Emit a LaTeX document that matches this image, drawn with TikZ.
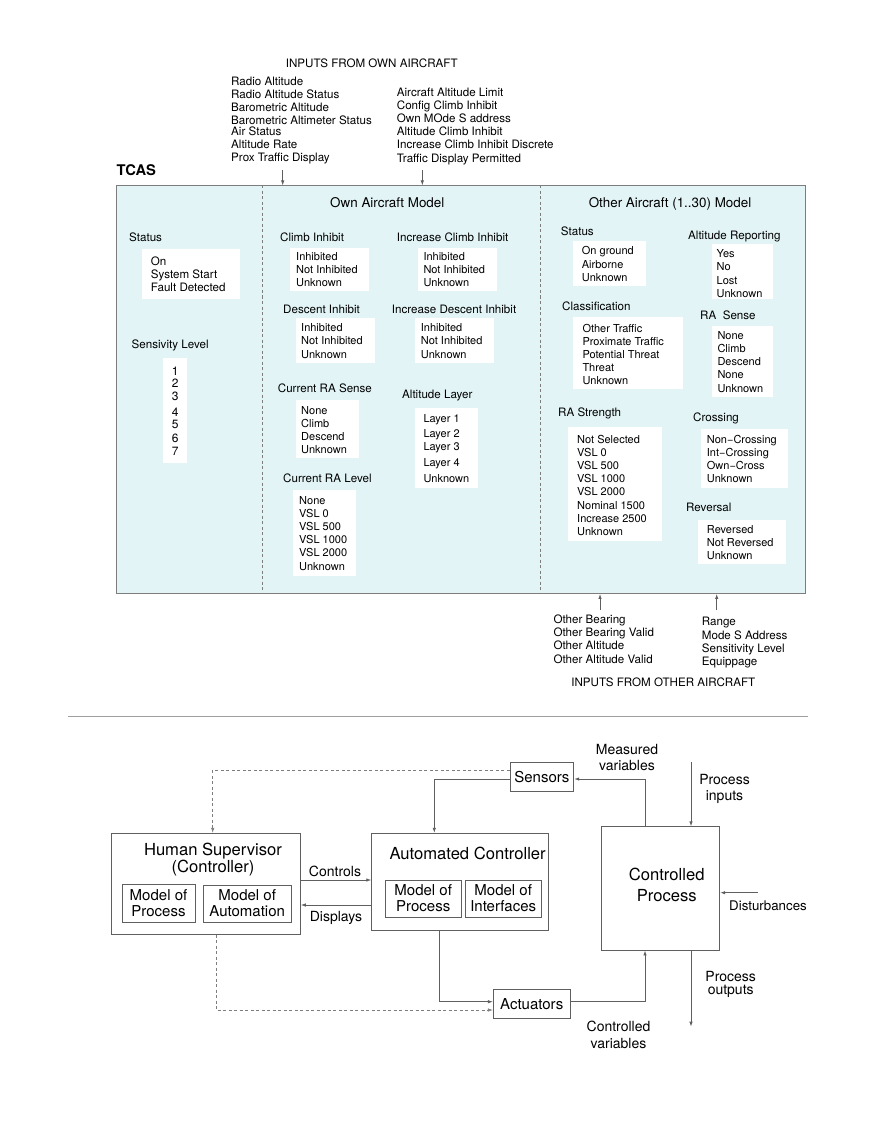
\documentclass[tikz,border=0pt]{standalone}
\usepackage{fontspec}
\setmainfont{TeX Gyre Heros}
\usepackage{array}
\usetikzlibrary{arrows.meta}
\definecolor{cyanbg}{RGB}{226,244,246}
\definecolor{edgec}{RGB}{125,125,125}
\definecolor{lnc}{RGB}{95,95,95}
\newcommand\lst[1]{\begin{tabular}[t]{@{}l@{}}#1\end{tabular}}
\newcommand\clst[1]{\begin{tabular}[t]{@{}c@{}}#1\end{tabular}}
\begin{document}
\begin{tikzpicture}[x=1pt,y=-1pt,
  txt/.style={inner sep=0pt, anchor=base west, font=\fontsize{11.6}{13.2}\selectfont},
  itm/.style={inner sep=0pt, anchor=base west, font=\fontsize{11}{13.2}\selectfont},
  hdr/.style={inner sep=0pt, anchor=base, font=\fontsize{13.4}{15}\selectfont},
  wbox/.style={fill=white, draw=none},
  arr/.style={-{Latex[length=5pt,width=3.4pt]}, draw=lnc, line width=0.8pt},
  dsh/.style={draw=edgec, line width=0.7pt, dash pattern=on 3pt off 2.5pt},
  bx/.style={draw=lnc, line width=0.8pt, fill=white, inner sep=0pt, align=center, font=\fontsize{15}{16}\selectfont},
  ttl/.style={inner sep=0pt, font=\fontsize{16.6}{17}\selectfont},
  lbl/.style={inner sep=0pt, anchor=base, font=\fontsize{14}{16.7}\selectfont}]
\useasboundingbox (0,0) rectangle (880,1139);
\fill[white] (0,0) rectangle (880,1139);

% ---------- TCAS ----------
\node[txt, anchor=base] (tin) at (371.7,68) {INPUTS FROM OWN AIRCRAFT};
\node[txt] (inl) at (231,85.2) {\lst{Radio Altitude\\Radio Altitude Status\\Barometric Altitude\\Barometric Altimeter Status\\[-2.5pt]Air Status\\Altitude Rate\\Prox Traffic Display}};
\node[txt] (inr) at (396.7,96.2) {\lst{Aircraft Altitude Limit\\Config Climb Inhibit\\Own MOde S address\\Altitude Climb Inhibit\\Increase Climb Inhibit Discrete\\Traffic Display Permitted}};
\node[inner sep=0pt, anchor=base west, font=\fontsize{14.7}{16}\selectfont\bfseries] (tcaslbl) at (116.5,176) {TCAS};

\node[draw=edgec, line width=0.9pt, fill=cyanbg, minimum width=689.5pt, minimum height=407.5pt, inner sep=0pt, anchor=north west] (tcas) at (115.5,185.5) {};

\coordinate (d1) at (262,0);
\coordinate (d2) at (540,0);
\draw[dsh] (tcas.north -| d1) -- (tcas.south -| d1);
\draw[dsh] (tcas.north -| d2) -- (tcas.south -| d2);

\coordinate (inA) at (282.7,170.5);
\coordinate (inB) at (422.3,170.5);
\draw[arr] (inA) -- (inA |- tcas.north);
\draw[arr] (inB) -- (inB |- tcas.north);

\node[hdr] (own) at (387.3,208) {Own Aircraft Model};
\node[hdr] (oth) at (670,208) {Other Aircraft (1..30) Model};

% left panel
\path[wbox] (141.7,249.3) rectangle (240,299.3);
\node[txt] (st) at (129,241.5) {Status};
\node[txt] (stv) at (150.7,265.5) {\lst{On\\System Start\\Fault Detected}};
\node[txt] (sl) at (131.5,348.2) {Sensivity Level};
\path[wbox] (163,357.7) rectangle (187.3,463);
\node[inner sep=0pt, anchor=base, font=\fontsize{12}{12.5}\selectfont] (slv) at (175.2,375) {\clst{1\\2\\3\\[3.5pt]4\\5\\[1.2pt]6\\[0.5pt]7}};

% middle panel
\node[txt] (ci) at (280,241.5) {Climb Inhibit};
\path[wbox] (290,247.7) rectangle (369.3,291);
\node[itm] (civ) at (296,260.3) {\lst{Inhibited\\Not Inhibited\\Unknown}};
\node[txt] (ici) at (396.7,241.5) {Increase Climb Inhibit};
\path[wbox] (417.7,247.7) rectangle (497.3,291);
\node[itm] (iciv) at (423.3,260.3) {\lst{Inhibited\\Not Inhibited\\Unknown}};
\node[txt] (di) at (283,313.2) {Descent Inhibit};
\path[wbox] (296,318) rectangle (375,363);
\node[itm] (div) at (301,331.7) {\lst{Inhibited\\Not Inhibited\\Unknown}};
\node[txt] (idi) at (391.7,313.2) {Increase Descent Inhibit};
\path[wbox] (415,318) rectangle (494,363);
\node[itm] (idiv) at (420.7,331.7) {\lst{Inhibited\\Not Inhibited\\Unknown}};
\node[txt] (crs) at (277.7,392.5) {Current RA Sense};
\path[wbox] (296,400) rectangle (359,458);
\node[itm] (crsv) at (301,414) {\lst{None\\Climb\\Descend\\Unknown}};
\node[txt] (al) at (402,398.2) {Altitude Layer};
\path[wbox] (415,408) rectangle (478,487.7);
\node[itm] (alv) at (423.3,422) {\lst{Layer 1\\[2.5pt]Layer 2\\Layer 3\\[2.8pt]Layer 4\\[2.5pt]Unknown}};
\node[txt] (crl) at (283,482.9) {Current RA Level};
\path[wbox] (293,490) rectangle (356,576);
\node[itm] (crlv) at (299,504) {\lst{None\\VSL 0\\VSL 500\\VSL 1000\\VSL 2000\\Unknown}};

% right panel
\node[txt] (ost) at (560.7,236) {Status};
\path[wbox] (573,241) rectangle (646,286);
\node[itm] (ostv) at (581.7,255) {\lst{On ground\\Airborne\\Unknown}};
\node[txt] (ar) at (688,240) {Altitude Reporting};
\path[wbox] (711.7,244) rectangle (772.7,299);
\node[itm] (arv) at (716.5,257.7) {\lst{Yes\\No\\Lost\\Unknown}};
\node[txt] (cl) at (562,310.9) {Classification};
\path[wbox] (573,317) rectangle (682.7,389);
\node[itm] (clv) at (582.3,332) {\lst{Other Traffic\\Proximate Traffic\\Potential Threat\\Threat\\Unknown}};
\node[txt] (ras) at (700,319) {RA\ \ Sense};
\path[wbox] (711.7,326) rectangle (772.7,396.7);
\node[itm] (rasv) at (717.3,339.3) {\lst{None\\Climb\\Descend\\None\\Unknown}};
\node[txt] (rst) at (558,416.2) {RA Strength};
\path[wbox] (568,427) rectangle (661.7,540.7);
\node[itm] (rstv) at (577,443) {\lst{Not Selected\\VSL 0\\VSL 500\\VSL 1000\\VSL 2000\\Nominal 1500\\Increase 2500\\Unknown}};
\node[txt] (cr) at (693,421.9) {Crossing};
\path[wbox] (700.7,429) rectangle (788,487.7);
\node[itm] (crv) at (706.7,443.3) {\lst{Non−Crossing\\Int−Crossing\\Own−Cross\\Unknown}};
\node[txt] (rv) at (686,511.9) {Reversal};
\path[wbox] (698,520) rectangle (786,564);
\node[itm] (rvv) at (706.7,533) {\lst{Reversed\\Not Reversed\\Unknown}};

\coordinate (oA) at (600,610);
\coordinate (oB) at (716.7,610);
\draw[arr] (oA) -- (oA |- tcas.south);
\draw[arr] (oB) -- (oB |- tcas.south);
\node[txt] (obl) at (553.3,623.5) {\lst{Other Bearing\\Other Bearing Valid\\Other Altitude\\Other Altitude Valid}};
\node[txt] (rgl) at (701.7,625.9) {\lst{Range\\Mode S Address\\Sensitivity Level\\Equippage}};
\node[txt, anchor=base] (tout) at (663.3,686.5) {INPUTS FROM OTHER AIRCRAFT};

% separator
\draw[draw=gray!75, line width=0.8pt] (68,716) -- (808,716);

% ---------- control loop ----------
\node[bx, minimum width=189.3pt, minimum height=101pt] (hs) at (205.7,883.8) {};
\node[ttl, anchor=base] (hst) at (213,855) {\clst{Human Supervisor\\(Controller)}};
\node[bx, minimum width=73pt, minimum height=38.3pt] (hmp) at (158.5,903.2) {Model of\\Process};
\node[bx, minimum width=87.7pt, minimum height=37pt] (hma) at (247.2,903.5) {Model of\\Automation};

\node[bx, minimum width=176.6pt, minimum height=97pt] (ac) at (460,881.8) {};
\node[ttl, anchor=base west] (actl) at (389.3,859.3) {Automated Controller};
\node[bx, minimum width=75.7pt, minimum height=37pt] (amp) at (423.2,898.5) {Model of\\Process};
\node[bx, minimum width=75.7pt, minimum height=37pt] (ami) at (503.2,898.5) {Model of\\Interfaces};

\node[bx, minimum width=63.7pt, minimum height=29.4pt] (sens) at (541.9,777) {Sensors};
\node[bx, minimum width=76.7pt, minimum height=29.7pt] (actu) at (531.7,1003.9) {Actuators};
\node[bx, minimum width=118.7pt, minimum height=123.3pt] (cp) at (660.4,888.4) {};
\node[ttl, align=center, font=\fontsize{16.6}{20.7}\selectfont] (cpt) at (666.7,884.7) {Controlled\\Process};

\draw[arr] ([yshift=3.8pt]hs.east) -- ([yshift=3.8pt]hs.east -| ac.west);
\draw[arr] ([yshift=-21.2pt]hs.east -| ac.west) -- ([yshift=-21.2pt]hs.east);
\node[lbl] (lc) at (335,876) {Controls};
\node[lbl] (ld) at (336,921) {Displays};

\draw[arr, dsh] ([yshift=6.7pt]sens.west) -| ([xshift=7pt]hs.north);
\draw[arr] ([yshift=-2pt]sens.west) -| ([xshift=-25.7pt]ac.north);
\draw[arr] ([xshift=-21pt]ac.south) |- ([yshift=2.2pt]actu.west);
\draw[arr, dsh] ([xshift=10.3pt]hs.south) |- ([yshift=-6.1pt]actu.west);
\draw[arr] ([xshift=-15.4pt]cp.north) |- ([yshift=-2pt]sens.east);
\draw[arr] ([yshift=2.2pt]actu.east) -| ([xshift=-15.4pt]cp.south);

\coordinate (pin) at (691,762);
\coordinate (pout) at (691,1026.7);
\coordinate (dst) at (758,892.7);
\draw[arr] (pin) -- (pin |- cp.north);
\draw[arr] (pout |- cp.south) -- (pout);
\draw[arr] (dst) -- (dst -| cp.east);

\node[lbl] (lmv) at (627,754) {\clst{Measured\\variables}};
\node[lbl, font=\fontsize{14}{16}\selectfont] (lpi) at (724.5,784) {\clst{Process\\inputs}};
\node[lbl, font=\fontsize{13.3}{15}\selectfont] (ldist) at (768,910.5) {Disturbances};
\node[lbl, font=\fontsize{14}{12.7}\selectfont] (lpo) at (730.7,981.7) {\clst{Process\\outputs}};
\node[lbl, font=\fontsize{14}{17.3}\selectfont] (lcv) at (618.5,1031) {\clst{Controlled\\variables}};
\end{tikzpicture}
\end{document}
